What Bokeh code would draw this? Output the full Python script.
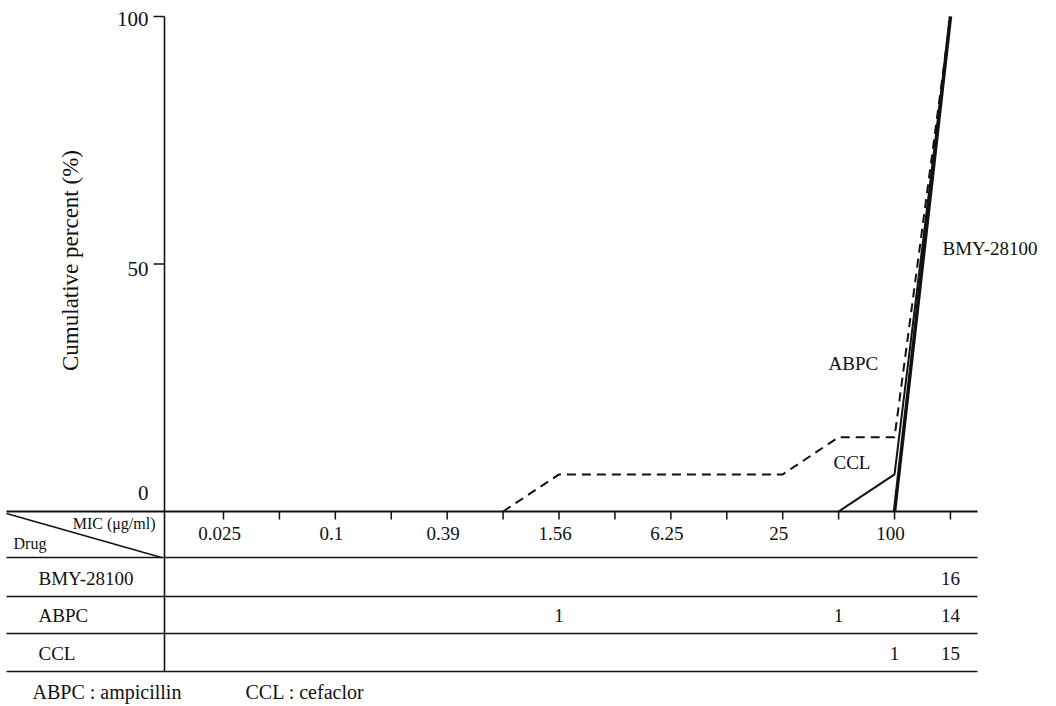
import numpy as np
from bokeh.plotting import figure
from bokeh.models import Range1d
from bokeh.core.properties import value
from bokeh.embed import file_html
from bokeh.resources import INLINE

# ---------------- data ----------------
mic_steps = ["0.025", "0.05", "0.1", "0.2", "0.39", "0.78", "1.56", "3.13",
             "6.25", "12.5", "25", "50", "100", ">100"]
mic_tick_labels = ["0.025", "0.1", "0.39", "1.56", "6.25", "25", "100"]
y_ticks = [0, 50, 100]

drugs = ["BMY-28100", "ABPC", "CCL"]
bmy_count_mic = [">100"]
bmy_counts = [16]
abpc_count_mic = ["1.56", "50", ">100"]
abpc_counts = [1, 1, 14]
ccl_count_mic = ["100", ">100"]
ccl_counts = [1, 15]

bmy_curve_mic = ["100", ">100"]
bmy_cum = [0, 100]
abpc_curve_mic = ["0.78", "1.56", "25", "50", "100", ">100"]
abpc_cum = [0, 7.5, 7.5, 15, 15, 100]
ccl_curve_mic = ["50", "100", ">100"]
ccl_cum = [0, 7.5, 100]

# ---------------- layout helpers ----------------
W, H = 1056, 706
OFF = 0                        # page offset of the canvas as rendered
X0_PX, DX_PX = 223.0, 55.92   # page px of first dilution, px per dilution step
Y0_PX, DY_PX = 511.0, 4.95    # page px of 0 %, px per %


def X(sx):
    return (sx - X0_PX) / DX_PX


def Y(sy):
    return (Y0_PX - sy) / DY_PX


idx = {m: i for i, m in enumerate(mic_steps)}
FONT = value("Liberation Serif")
INK = "#111111"

p = figure(width=W, height=H,
           x_range=Range1d(X(OFF), X(OFF + W)), y_range=Range1d(Y(OFF + H), Y(OFF)),
           output_backend="svg", toolbar_location=None, min_border=0,
           x_axis_type=None, y_axis_type=None)
p.outline_line_color = None
p.background_fill_color = "white"
p.border_fill_color = "white"

# ---------------- axes & table frame ----------------
# horizontal axis line (also top of table)
p.segment(x0=[X(6)], y0=[0], x1=[X(977)], y1=[0], line_color=INK, line_width=1.8)
# table row lines
row_lines = [557, 596, 633, 671]
p.segment(x0=[X(6)] * len(row_lines), y0=[Y(s) for s in row_lines],
          x1=[X(977)] * len(row_lines), y1=[Y(s) for s in row_lines],
          line_color=INK, line_width=1.6)
# vertical axis line
p.segment(x0=[X(164)], y0=[100], x1=[X(164)], y1=[Y(671)], line_color=INK, line_width=1.6)
# header diagonal
p.segment(x0=[X(6)], y0=[Y(513)], x1=[X(161)], y1=[Y(557)], line_color=INK, line_width=1.4)

# x ticks
tick_x = list(range(len(mic_steps)))
p.segment(x0=tick_x, y0=[0] * len(tick_x), x1=tick_x, y1=[Y(519)] * len(tick_x),
          line_color=INK, line_width=1.5)
# x tick labels
p.text(x=[idx[m] for m in mic_tick_labels], y=[Y(533)] * len(mic_tick_labels),
       text=mic_tick_labels, text_font=FONT, text_font_size="19px",
       x_offset=-4,
       text_align="center", text_baseline="middle", text_color=INK)

# y ticks
p.segment(x0=[X(153)] * 2, y0=[50, 100], x1=[X(164)] * 2, y1=[50, 100],
          line_color=INK, line_width=1.5)
p.text(x=[X(148)] * len(y_ticks), y=y_ticks, text=[str(v) for v in y_ticks],
       y_offset=[-19, 5, 2],
       text_font=FONT, text_font_size="21px", text_align="right",
       text_baseline="middle", text_color=INK)

# y-axis title
p.text(x=[X(70)], y=[Y(260)], text=["Cumulative percent (%)"], angle=np.pi / 2,
       text_font=FONT, text_font_size="23px", text_align="center",
       text_baseline="middle", text_color=INK)

# ---------------- curves ----------------
p.line([idx[m] for m in abpc_curve_mic], abpc_cum, line_color=INK, line_width=2,
       line_dash="9 6")
p.line([idx[m] for m in ccl_curve_mic], ccl_cum, line_color=INK, line_width=2)
p.line([idx[m] for m in bmy_curve_mic], bmy_cum, line_color=INK, line_width=3.5)

# curve labels
p.text(x=[X(942), X(828), X(833)], y=[Y(248), Y(363), Y(462)],
       text=["BMY-28100", "ABPC", "CCL"], text_font=FONT, text_font_size="19px",
       text_align="left", text_baseline="middle", text_color=INK)

# ---------------- table ----------------
row_y = [Y(578), Y(615), Y(653)]
p.text(x=[X(38)] * len(drugs), y=row_y, text=drugs, text_font=FONT,
       text_font_size="19px", text_align="left", text_baseline="middle", text_color=INK)

p.text(x=[X(155)], y=[Y(523)], text=["MIC (\u03bcg/ml)"], text_font=FONT,
       text_font_size="16px", text_align="right", text_baseline="middle", text_color=INK)
p.text(x=[X(13)], y=[Y(543)], text=["Drug"], text_font=FONT,
       text_font_size="16px", text_align="left", text_baseline="middle", text_color=INK)

for mics, counts, ry in [(bmy_count_mic, bmy_counts, row_y[0]),
                         (abpc_count_mic, abpc_counts, row_y[1]),
                         (ccl_count_mic, ccl_counts, row_y[2])]:
    p.text(x=[idx[m] for m in mics], y=[ry] * len(mics), text=[str(c) for c in counts],
           text_font=FONT, text_font_size="19px", text_align="center",
           text_baseline="middle", text_color=INK)

# footnote
p.text(x=[X(32), X(245)], y=[Y(691)] * 2,
       text=["ABPC : ampicillin", "CCL : cefaclor"], text_font=FONT,
       text_font_size="20px", text_align="left", text_baseline="middle", text_color=INK)

open("out.html", "w").write(file_html(p, INLINE))
